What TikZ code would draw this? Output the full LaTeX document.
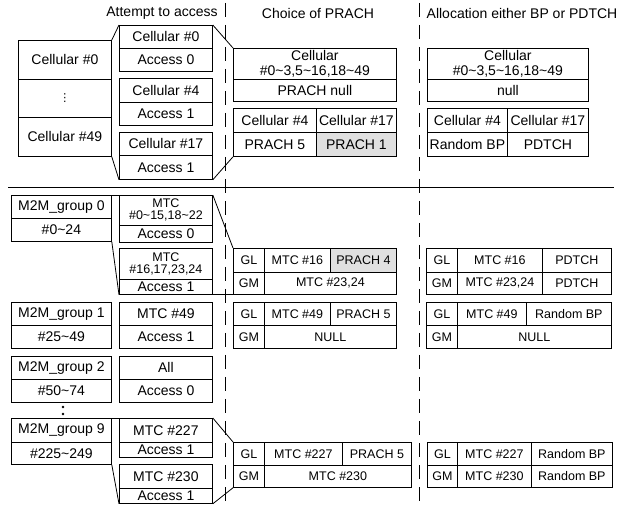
\documentclass[tikz,border=0pt]{standalone}
\usepackage{fontspec}
\setmainfont{Liberation Sans}
\newfontfamily\dejavu{DejaVu Sans}
\newcommand{\tld}{\textasciitilde}
\tikzset{
  cell/.style={draw, line width=0.8pt, anchor=north west, inner sep=0pt,
    align=center, font=\fontsize{14}{15}\selectfont},
  small/.style={cell, font=\fontsize{12.5}{12}\selectfont},
  shade/.style={fill=black!12},
  title/.style={font=\fontsize{14}{16}\selectfont},
  sep/.style={line width=0.8pt, dash pattern=on 14pt off 8pt},
  link/.style={line width=0.8pt}
}
\begin{document}
\begin{tikzpicture}[x=1pt, y=-1pt]
  \useasboundingbox (0,0) rectangle (630,505);

  % titles and separators
  \node[title] (t1) at (162,13) {Attempt to access};
  \node[title] (t2) at (318,13) {Choice of PRACH};
  \node[title] (t3) at (522,13) {Allocation either BP or PDTCH};
  \draw[sep] (225,3) -- (225,505);
  \draw[sep] (419,3) -- (419,505);
  \draw[link] (8,187) -- (614,187);

  % cellular: users
  \node[cell, minimum width=93, minimum height=39] (cl0) at (18,40) {Cellular \#0};
  \node[cell, minimum width=93, minimum height=38] (cldot) at (18,79) {\dejavu\fontsize{11}{11}\selectfont ⋮};
  \node[cell, minimum width=93, minimum height=39] (cl49) at (18,117) {Cellular \#49};

  % cellular: attempt to access
  \node[cell, minimum width=93, minimum height=23] (ca0) at (119,25) {Cellular \#0};
  \node[cell, minimum width=93, minimum height=23] (aa0) at (119,48) {Access 0};
  \node[cell, minimum width=93, minimum height=24] (ca4) at (119,78) {Cellular \#4};
  \node[cell, minimum width=93, minimum height=23] (aa4) at (119,102) {Access 1};
  \node[cell, minimum width=93, minimum height=23] (ca17) at (119,132) {Cellular \#17};
  \node[cell, minimum width=93, minimum height=24] (aa17) at (119,155) {Access 1};

  % cellular: choice of PRACH
  \node[cell, minimum width=163, minimum height=31] (pc) at (233,48) {Cellular\\\#0\tld3,5\tld16,18\tld49};
  \node[cell, minimum width=163, minimum height=22] (pn) at (233,79) {PRACH null};
  \node[cell, minimum width=83, minimum height=24] (pc4) at (233,108) {Cellular \#4};
  \node[cell, minimum width=80, minimum height=24] (pc17) at (316,108) {Cellular \#17};
  \node[cell, minimum width=83, minimum height=24] (pr5) at (233,132) {PRACH 5};
  \node[cell, shade, minimum width=80, minimum height=24] (pr1) at (316,132) {PRACH 1};

  % cellular: allocation
  \node[cell, minimum width=161, minimum height=31] (bc) at (427,48) {Cellular\\\#0\tld3,5\tld16,18\tld49};
  \node[cell, minimum width=161, minimum height=22] (bn) at (427,79) {null};
  \node[cell, minimum width=80, minimum height=24] (bc4) at (427,108) {Cellular \#4};
  \node[cell, minimum width=81, minimum height=24] (bc17) at (507,108) {Cellular \#17};
  \node[cell, minimum width=80, minimum height=24] (bbp) at (427,132) {Random BP};
  \node[cell, minimum width=81, minimum height=24] (bpd) at (507,132) {PDTCH};

  \draw[link] (cl0.north east) -- (ca0.north west);
  \draw[link] (cl49.south east) -- (aa17.south west);
  \draw[link] (ca0.north east) -- (pc.north west);
  \draw[link] (aa17.south east) -- (pr5.south west);

  % M2M: groups
  \node[cell, minimum width=100, minimum height=23] (g0) at (11,195) {M2M\_group 0};
  \node[cell, minimum width=100, minimum height=23] (g0r) at (11,218) {\#0\tld24};
  \node[cell, minimum width=100, minimum height=23] (g1) at (11,302) {M2M\_group 1};
  \node[cell, minimum width=100, minimum height=23] (g1r) at (11,325) {\#25\tld49};
  \node[cell, minimum width=100, minimum height=23] (g2) at (11,356) {M2M\_group 2};
  \node[cell, minimum width=100, minimum height=23] (g2r) at (11,379) {\#50\tld74};
  \node[cell, minimum width=100, minimum height=24] (g9) at (11,418) {M2M\_group 9};
  \node[cell, minimum width=100, minimum height=22] (g9r) at (11,442) {\#225\tld249};
  \fill (63,407) circle (1.3);
  \fill (63,414) circle (1.3);

  % M2M: attempt to access
  \node[small, minimum width=93, minimum height=30] (m0) at (119,195) {MTC\\\#0\tld15,18\tld22};
  \node[cell, minimum width=93, minimum height=17] (am0) at (119,225) {Access 0};
  \node[small, minimum width=93, minimum height=31] (m16) at (119,248) {MTC\\\#16,17,23,24};
  \node[cell, minimum width=93, minimum height=15] (am16) at (119,279) {Access 1};
  \node[cell, minimum width=93, minimum height=23] (m49) at (119,302) {MTC \#49};
  \node[cell, minimum width=93, minimum height=23] (am49) at (119,325) {Access 1};
  \node[cell, minimum width=93, minimum height=23] (mall) at (119,356) {All};
  \node[cell, minimum width=93, minimum height=23] (amall) at (119,379) {Access 0};
  \node[cell, minimum width=93, minimum height=24] (m227) at (119,418) {MTC \#227};
  \node[cell, minimum width=93, minimum height=15] (am227) at (119,442) {Access 1};
  \node[cell, minimum width=93, minimum height=24] (m230) at (119,464) {MTC \#230};
  \node[cell, minimum width=93, minimum height=15] (am230) at (119,488) {Access 1};

  % M2M: choice of PRACH
  \node[small, minimum width=31, minimum height=24] (pgl1) at (233,248) {GL};
  \node[small, minimum width=66, minimum height=24] (pm16) at (264,248) {MTC \#16};
  \node[small, shade, minimum width=66, minimum height=24] (pr4) at (330,248) {PRACH 4};
  \node[small, minimum width=31, minimum height=22] (pgm1) at (233,272) {GM};
  \node[small, minimum width=132, minimum height=22] (pm23) at (264,272) {MTC \#23,24};
  \node[small, minimum width=31, minimum height=23] (pgl2) at (233,302) {GL};
  \node[small, minimum width=66, minimum height=23] (pm49) at (264,302) {MTC \#49};
  \node[small, minimum width=66, minimum height=23] (pr5b) at (330,302) {PRACH 5};
  \node[small, minimum width=31, minimum height=23] (pgm2) at (233,325) {GM};
  \node[small, minimum width=132, minimum height=23] (pnull) at (264,325) {NULL};
  \node[small, minimum width=31, minimum height=23] (pgl3) at (233,442) {GL};
  \node[small, minimum width=78, minimum height=23] (pm227) at (264,442) {MTC \#227};
  \node[small, minimum width=69, minimum height=23] (pr5c) at (342,442) {PRACH 5};
  \node[small, minimum width=31, minimum height=22] (pgm3) at (233,465) {GM};
  \node[small, minimum width=147, minimum height=22] (pm230) at (264,465) {MTC \#230};

  % M2M: allocation
  \node[small, minimum width=31, minimum height=24] (bgl1) at (426,248) {GL};
  \node[small, minimum width=85, minimum height=24] (bm16) at (457,248) {MTC \#16};
  \node[small, minimum width=69, minimum height=24] (bpd1) at (542,248) {PDTCH};
  \node[small, minimum width=31, minimum height=22] (bgm1) at (426,272) {GM};
  \node[small, minimum width=85, minimum height=22] (bm23) at (457,272) {MTC \#23,24};
  \node[small, minimum width=69, minimum height=22] (bpd2) at (542,272) {PDTCH};
  \node[small, minimum width=31, minimum height=23] (bgl2) at (426,302) {GL};
  \node[small, minimum width=69, minimum height=23] (bm49) at (457,302) {MTC \#49};
  \node[small, minimum width=85, minimum height=23] (bbp1) at (526,302) {Random BP};
  \node[small, minimum width=31, minimum height=23] (bgm2) at (426,325) {GM};
  \node[small, minimum width=154, minimum height=23] (bnull) at (457,325) {NULL};
  \node[small, minimum width=30, minimum height=23] (bgl3) at (427,442) {GL};
  \node[small, minimum width=74, minimum height=23] (bm227) at (457,442) {MTC \#227};
  \node[small, minimum width=81, minimum height=23] (bbp2) at (531,442) {Random BP};
  \node[small, minimum width=30, minimum height=22] (bgm3) at (427,465) {GM};
  \node[small, minimum width=74, minimum height=22] (bm230) at (457,465) {MTC \#230};
  \node[small, minimum width=81, minimum height=22] (bbp3) at (531,465) {Random BP};

  \draw[link] (g0.north east) -- (m0.north west);
  \draw[link] (g0r.south east) -- (am16.south west);
  \draw[link] (m0.north east) -- (pgl1.north west);
  \draw[link] (am16.south east) -- (pgm1.south west);
  \draw[link] (g9.north east) -- (m227.north west);
  \draw[link] (g9r.south east) -- (am230.south west);
  \draw[link] (m227.north east) -- (pgl3.north west);
  \draw[link] (am230.south east) -- (pgm3.south west);
\end{tikzpicture}
\end{document}
